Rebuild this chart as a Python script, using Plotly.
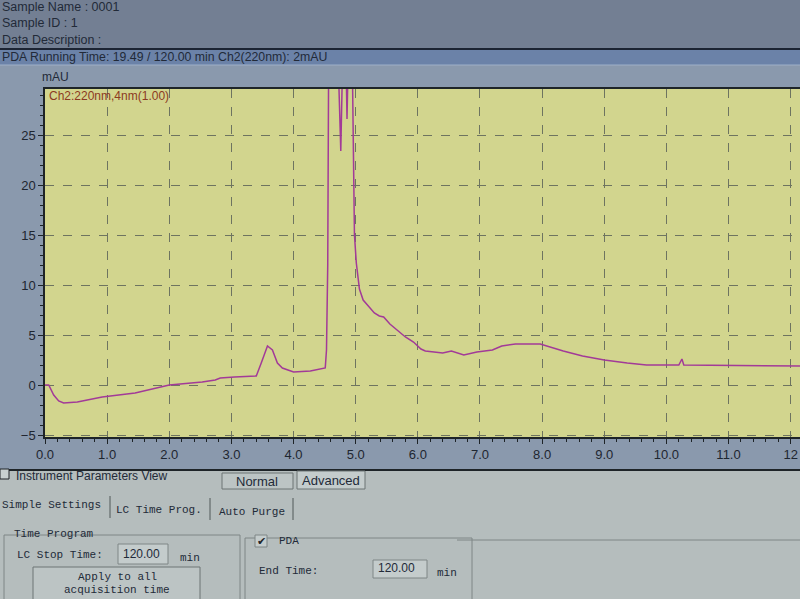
import plotly.graph_objects as go

# chromatogram trace (min, mAU)
tempo_min = [0.00, 0.06, 0.14, 0.22, 0.30, 0.52, 0.92, 1.45, 2.00, 2.53, 2.74, 2.82, 3.05, 3.40,
             3.48, 3.58, 3.66, 3.74, 3.82, 4.00, 4.27, 4.51, 4.53, 4.55, 4.57, 4.62, 4.68, 4.72,
             4.76, 4.79, 4.82, 4.86, 4.89, 4.92, 4.95, 4.98, 5.01, 5.06, 5.12, 5.20, 5.30, 5.38,
             5.45, 5.55, 5.67, 5.80, 5.93, 6.05, 6.12, 6.28, 6.40, 6.54, 6.74, 6.95, 7.20, 7.35,
             7.57, 7.97, 8.34, 8.65, 9.00, 9.37, 9.68, 10.20, 10.25, 10.28, 12.15]
sinal_mau = [0.0, 0.0, -1.0, -1.6, -1.8, -1.7, -1.2, -0.8, 0.0, 0.3, 0.5, 0.7, 0.8, 0.9,
             2.2, 3.9, 3.5, 2.2, 1.7, 1.3, 1.4, 1.7, 3.5, 12.0, 40.0, 60.0, 45.0, 32.0,
             23.4, 32.0, 42.0, 26.6, 40.0, 45.0, 30.0, 15.0, 12.2, 9.6, 8.5, 7.9, 7.2, 6.9,
             6.8, 6.1, 5.5, 4.8, 4.3, 3.6, 3.4, 3.3, 3.2, 3.4, 3.0, 3.3, 3.5, 3.9,
             4.1, 4.1, 3.4, 2.9, 2.5, 2.2, 2.0, 2.0, 2.6, 2.0, 1.9]

x_ticks = [0, 1, 2, 3, 4, 5, 6, 7, 8, 9, 10, 11, 12]
x_tick_labels = ['0.0', '1.0', '2.0', '3.0', '4.0', '5.0', '6.0', '7.0', '8.0', '9.0', '10.0', '11.0', '12']
y_ticks = [-5, 0, 5, 10, 15, 20, 25]

W, H = 800, 599


def px(x):
    return x / W


def py(y):
    return 1 - y / H


fig = go.Figure()
fig.add_trace(go.Scatter(x=tempo_min, y=sinal_mau, mode='lines',
                         line=dict(color='#a23a98', width=1.5), hoverinfo='skip'))

shapes = []
annots = []


def rect(x0, y0, x1, y1, fill, line=None, lw=0):
    shapes.append(dict(type='rect', xref='paper', yref='paper', x0=px(x0), x1=px(x1), y0=py(y1), y1=py(y0),
                       fillcolor=fill, line=dict(color=line or fill, width=lw), layer='below'))


def hline(x0, x1, y, color, lw=1):
    shapes.append(dict(type='line', xref='paper', yref='paper', x0=px(x0), x1=px(x1), y0=py(y), y1=py(y),
                       line=dict(color=color, width=lw), layer='below'))


def vline(x, y0, y1, color, lw=1):
    shapes.append(dict(type='line', xref='paper', yref='paper', x0=px(x), x1=px(x), y0=py(y0), y1=py(y1),
                       line=dict(color=color, width=lw), layer='below'))


def text(x, y, s, size=12, color='#222a38', family='Liberation Sans, Arial, sans-serif', anchor='left'):
    annots.append(dict(xref='paper', yref='paper', x=px(x), y=py(y), text=s, showarrow=False,
                       xanchor=anchor, yanchor='middle', font=dict(size=size, color=color, family=family)))


# cabeçalho
rect(0, 0, 800, 49, '#737f93')
rect(0, 49, 800, 65, '#6b82a8')
hline(0, 800, 49, '#1c2433', 2)
hline(0, 800, 65, '#9fb0c8', 1)
text(0, 7, 'Sample Name : 0001', 12.5)
text(0, 23, 'Sample ID : 1', 12.5)
text(0, 40, 'Data Description :', 12.5)
text(0, 57, 'PDA Running Time: 19.49 / 120.00 min Ch2(220nm): 2mAU', 12.3)

# rótulos do gráfico
text(40, 77, 'mAU', 12)
text(47, 96, 'Ch2:220nm,4nm(1.00)', 12, color='#8c3a22')

# painel inferior
rect(0, 470, 800, 599, '#b5bdbd')
hline(0, 800, 470, '#1e2428', 2)
rect(0, 469, 9, 479, '#c8d0d0', '#202428', 1)
text(14, 476, 'Instrument Parameters View', 12)
rect(222, 473, 293, 489, '#bcc4c4', '#6c7474', 1)
text(257, 481, 'Normal', 13, anchor='center')
rect(297, 471, 365, 489, '#c4cccc', '#6c7474', 1)
text(331, 480, 'Advanced', 13, anchor='center')

mono = 'Liberation Mono, DejaVu Sans Mono, monospace'
text(0, 505, 'Simple Settings', 11, family=mono)
vline(110, 496, 518, '#505858')
text(114, 510, 'LC Time Prog.', 11, family=mono)
vline(210, 498, 520, '#505858')
text(217, 512, 'Auto Purge', 11, family=mono)
vline(293, 498, 520, '#505858')

# grupo Time Program
hline(4, 240, 535, '#7e8686')
vline(4, 535, 599, '#7e8686')
vline(240, 535, 599, '#7e8686')
text(12, 534, 'Time Program', 11, family=mono)
text(15, 555, 'LC Stop Time:', 11, family=mono)
rect(118, 544, 168, 564, '#c4cccc', '#7e8686', 1)
text(121, 554, '120.00', 12)
text(178, 558, 'min', 11, family=mono)
rect(33, 567, 200, 605, '#bcc4c4', '#6c7474', 1)
text(117, 577, 'Apply to all', 11, family=mono, anchor='center')
text(117, 590, 'acquisition time', 11, family=mono, anchor='center')

# grupo PDA
hline(245, 472, 538, '#7e8686')
vline(245, 538, 599, '#7e8686')
vline(472, 538, 599, '#7e8686')
hline(457, 800, 540, '#7e8686')
rect(255, 535, 267, 547, '#c4cccc', '#7e8686', 1)
text(255, 541, '✔', 11, color='#202428')
text(277, 541, 'PDA', 11, family=mono)
text(257, 571, 'End Time:', 11, family=mono)
rect(373, 560, 427, 578, '#c4cccc', '#7e8686', 1)
text(376, 568, '120.00', 12)
text(435, 573, 'min', 11, family=mono)

fig.update_layout(
    width=W, height=H,
    margin=dict(l=0, r=0, t=0, b=0),
    paper_bgcolor='#8a99ad',
    plot_bgcolor='#d2d58e',
    showlegend=False,
    shapes=shapes,
    annotations=annots,
    font=dict(family='Liberation Sans, Arial, sans-serif', size=12, color='#1e2630'),
    xaxis=dict(
        domain=[px(45), 1], range=[0, 12.15], automargin=False,
        tickvals=x_ticks, ticktext=x_tick_labels, ticklabeloverflow='allow',
        ticks='outside', ticklen=5, tickcolor='#1e2428',
        minor=dict(dtick=0.2, tick0=0, ticks='outside', ticklen=3, tickcolor='#1e2428', showgrid=False),
        showline=True, linecolor='#1e2428', linewidth=1.5, mirror=True,
        showgrid=True, gridcolor='#6e7460', griddash='dash', gridwidth=1,
        zeroline=False, tickfont=dict(size=13),
    ),
    yaxis=dict(
        domain=[py(437), py(89)], range=[-5.2, 29.6], automargin=False,
        tickvals=y_ticks,
        ticks='outside', ticklen=5, tickcolor='#1e2428',
        minor=dict(dtick=1, tick0=0, ticks='outside', ticklen=3, tickcolor='#1e2428', showgrid=False),
        showline=True, linecolor='#1e2428', linewidth=1.5, mirror=True,
        showgrid=True, gridcolor='#6e7460', griddash='dash', gridwidth=1,
        zeroline=False, tickfont=dict(size=13),
    ),
)

# remove a margem padrão do <body> para a figura ocupar a janela inteira
fig.write_html("out.html", config={'displayModeBar': False},
               post_script="document.body.style.margin='0';")
